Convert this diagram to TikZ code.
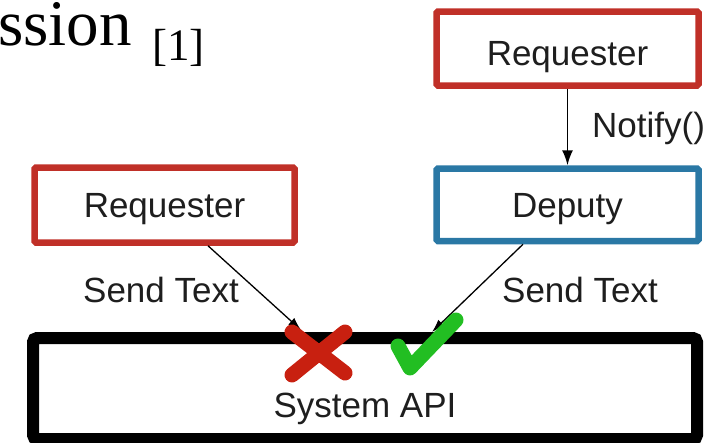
\documentclass[tikz,border=0pt]{standalone}
\usepackage{fontspec}
\setmainfont{Liberation Sans}
\newfontfamily\seriffont{Liberation Serif}
\usetikzlibrary{arrows.meta}
\definecolor{boxred}{RGB}{192,48,40}
\definecolor{boxblue}{RGB}{42,120,165}
\definecolor{xred}{RGB}{200,32,16}
\definecolor{okgreen}{RGB}{34,190,34}
\definecolor{txt}{RGB}{30,30,30}
\begin{document}
\begin{tikzpicture}[x=1pt,y=-1pt,
  lbl/.style={font=\fontsize{35}{40}\selectfont, text=txt, inner sep=0pt},
  boxnode/.style={draw, line width=6.5pt, rounded corners=1.5pt, font=\fontsize{35}{40}\selectfont, text=txt, inner sep=0pt, text depth=0pt},
  conn/.style={line width=1.3pt, -{Latex[length=13pt,width=9pt]}},
  vconn/.style={line width=1.6pt, -{Latex[length=15pt,width=11pt]}},
  symstroke/.style={line width=15pt, line cap=round, line join=round},
]
\useasboundingbox (0,0) rectangle (723,442);
% title fragment
\node[font=\seriffont\fontsize{65}{70}\selectfont, anchor=base west, inner sep=0pt] (title) at (-2,45) {ssion};
\node[font=\seriffont\fontsize{45}{50}\selectfont, anchor=base west, inner sep=0pt] (ref) at (152,60) {[1]};
% boxes
\node[boxnode, draw=boxred, minimum width=262pt, minimum height=74pt, text height=33pt] (treq) at (567.5,48.5) {Requester};
\node[boxnode, draw=boxblue, minimum width=262pt, minimum height=72.5pt, text height=25pt] (deputy) at (567.5,204.75) {Deputy};
\node[boxnode, draw=boxred, minimum width=260pt, minimum height=75pt, text height=25pt] (lreq) at (164.5,205) {Requester};
\node[boxnode, draw=black, line width=12pt, rounded corners=4pt, minimum width=664pt, minimum height=101pt, text height=58pt] (api) at (365,388.5) {System API};
% labels
\node[lbl, anchor=base west] (notify) at (592,137.5) {Notify()};
\node[lbl, anchor=base] (lsend) at (161,302) {Send Text};
\node[lbl, anchor=base] (rsend) at (580,302) {Send Text};
% connectors
\coordinate (xend) at (301,330);
\coordinate (cend) at (432,332);
\draw[vconn] (treq.south) -- (deputy.north);
\draw[conn] ([xshift=43.5pt]lreq.south) -- (xend);
\draw[conn] ([xshift=-44.5pt]deputy.south) -- (cend);
% marks
\draw[symstroke, xred] (292,332) -- (345,373) (345,332) -- (292,375);
\draw[symstroke, okgreen] (398,346) -- (410,368) -- (456,320);
\end{tikzpicture}
\end{document}
